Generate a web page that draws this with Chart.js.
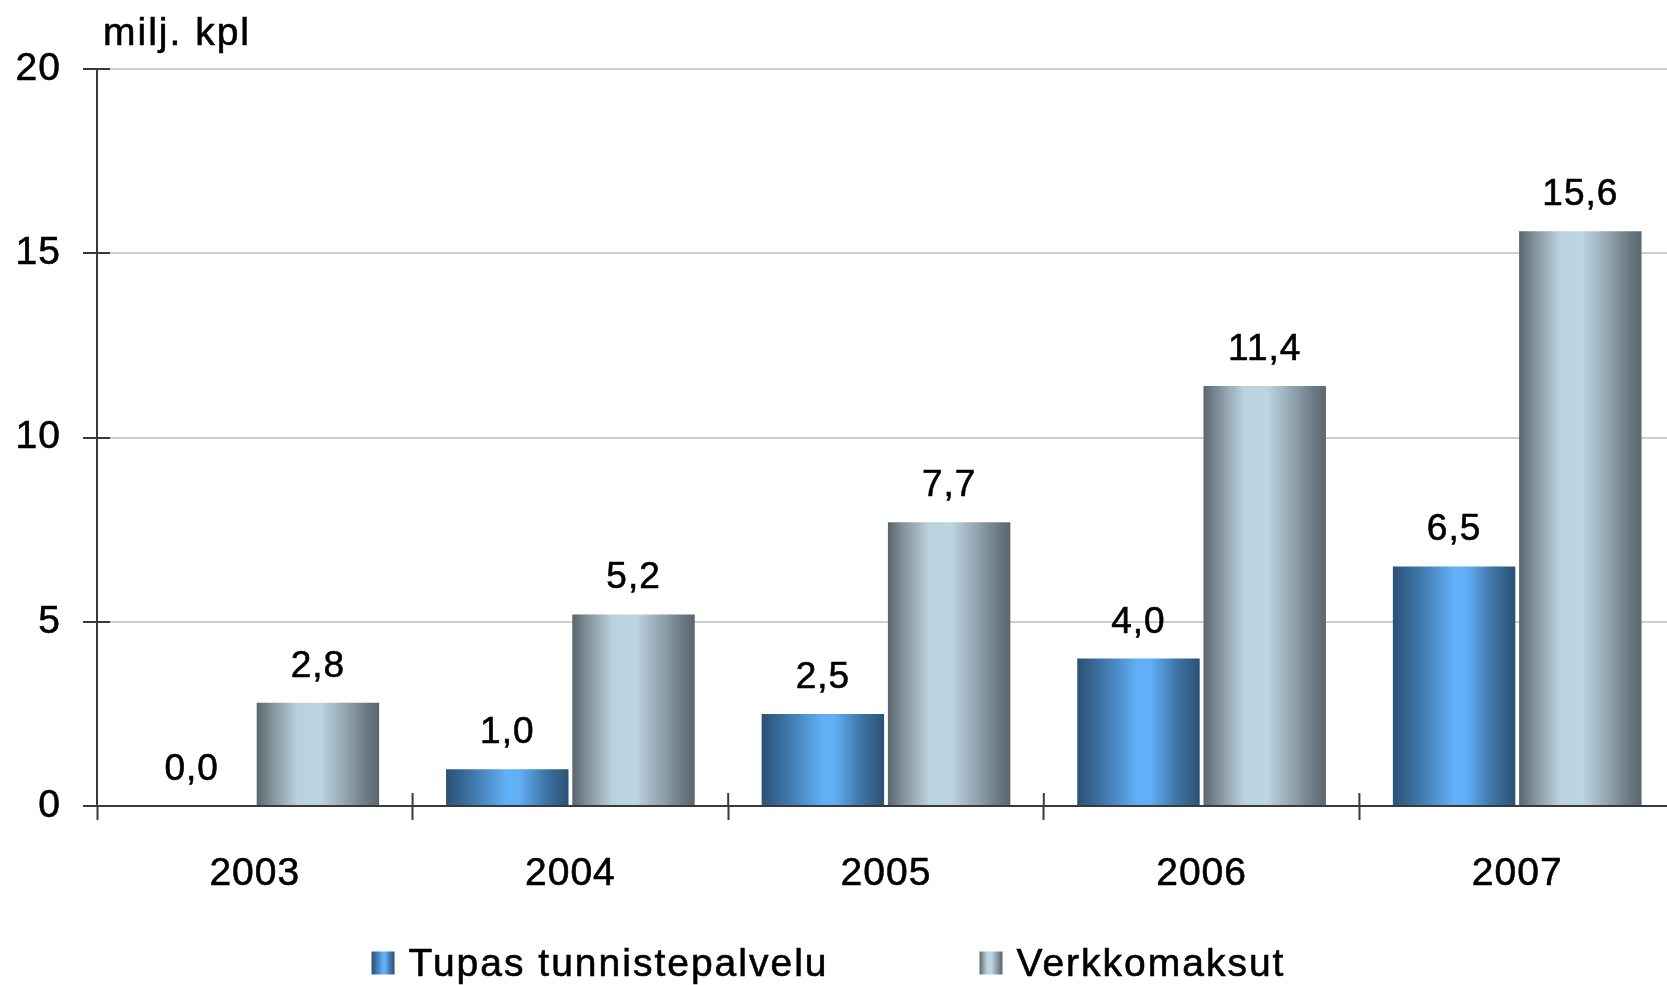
<!DOCTYPE html>
<html>
<head>
<meta charset="utf-8">
<script src="https://cdn.jsdelivr.net/npm/chart.js@4.4.1/dist/chart.umd.min.js"></script>
<style>
  html, body { margin: 0; padding: 0; background: #ffffff; overflow: hidden; }
  #wrap { position: relative; width: 1675px; height: 985px; }
</style>
</head>
<body>
<div id="wrap"><canvas id="c"></canvas></div>
<script>
const categories = ['2003', '2004', '2005', '2006', '2007'];
const seriesNames = ['Tupas tunnistepalvelu', 'Verkkomaksut'];
const tupasValues = [0.0, 1.0, 2.5, 4.0, 6.5];
const verkkoValues = [2.8, 5.2, 7.7, 11.4, 15.6];
const yTickValues = [0, 5, 10, 15, 20];
const yAxisTitle = 'milj. kpl';

const FONT = "'Liberation Sans', Arial, sans-serif";
const FS_AXIS = 39;
const FS_VAL = 37;
const FS_TEXT = 39;
const STROKE = 0.6;
const CAT_PCT = 0.8;
const BAR_PCT = 0.97;

const blueStops = [[0, '#2b5176'], [0.22, '#3f78ab'], [0.5, '#62b1f8'], [0.6, '#60aef5'], [0.82, '#3d73a4'], [1, '#2b5175']];
const greyStops = [[0, '#5a666e'], [0.14, '#86969f'], [0.33, '#bad1de'], [0.52, '#bdd4e1'], [0.72, '#92a6b1'], [0.9, '#6b7982'], [1, '#5b676f']];

function makeGrad(ctx, x0, x1, stops) {
  const g = ctx.createLinearGradient(x0, 0, x1, 0);
  stops.forEach(s => g.addColorStop(s[0], s[1]));
  return g;
}

function barGradient(stops) {
  return function (c) {
    const chart = c.chart;
    const xs = chart.scales && chart.scales.x;
    if (!xs || c.type !== 'data' || !isFinite(xs.width)) return stops[2][1];
    const catW = xs.width / categories.length;
    const group = catW * CAT_PCT;
    const slot = group / 2;
    const left = xs.getPixelForValue(c.dataIndex) - group / 2 + c.datasetIndex * slot + slot * (1 - BAR_PCT) / 2;
    const w = slot * BAR_PCT;
    return makeGrad(chart.ctx, left, left + w, stops);
  };
}

const fmt = v => v.toFixed(1).replace('.', ',');

function drawText(ctx, t, x, y) {
  ctx.fillText(t, x, y);
  ctx.strokeText(t, x, y);
}

const extrasPlugin = {
  id: 'extras',
  beforeDraw(chart) {
    chart.ctx.letterSpacing = '1px';
  },
  afterDraw(chart) {
    const ctx = chart.ctx;
    const area = chart.chartArea;
    const ys = chart.scales.y, xs = chart.scales.x;
    ctx.save();
    // inner tick marks crossing the axes
    ctx.strokeStyle = '#3a3a3a';
    ctx.lineWidth = 2;
    yTickValues.forEach(v => {
      const y = Math.round(ys.getPixelForValue(v));
      ctx.beginPath(); ctx.moveTo(area.left, y); ctx.lineTo(area.left + 13, y); ctx.stroke();
    });
    for (let i = 0; i <= categories.length; i++) {
      const x = xs.left + i * xs.width / categories.length;
      ctx.beginPath(); ctx.moveTo(x, area.bottom); ctx.lineTo(x, area.bottom - 13); ctx.stroke();
    }
    // value labels
    ctx.fillStyle = '#000';
    ctx.strokeStyle = '#000';
    ctx.lineWidth = STROKE;
    ctx.letterSpacing = '1px';
    ctx.font = FS_VAL + 'px ' + FONT;
    ctx.textAlign = 'center';
    ctx.textBaseline = 'alphabetic';
    chart.data.datasets.forEach((ds, di) => {
      const meta = chart.getDatasetMeta(di);
      meta.data.forEach((el, i) => {
        drawText(ctx, fmt(ds.data[i]), el.x, el.y - 26);
      });
    });
    // axis title
    ctx.letterSpacing = '2px';
    ctx.font = FS_TEXT + 'px ' + FONT;
    ctx.textAlign = 'left';
    ctx.textBaseline = 'middle';
    drawText(ctx, yAxisTitle, area.left + 6, 34);
    // legend
    const boxes = [blueStops, greyStops];
    const box = 23, gapText = 14, gapItems = 151;
    const widths = seriesNames.map(t => box + gapText + ctx.measureText(t).width);
    const total = widths[0] + gapItems + widths[1];
    let x = (chart.width - total) / 2 - 9;
    const cy = 963;
    seriesNames.forEach((t, i) => {
      ctx.fillStyle = makeGrad(ctx, x, x + box, boxes[i]);
      ctx.fillRect(x, cy - box / 2, box, box);
      ctx.fillStyle = '#000';
      drawText(ctx, t, x + box + gapText, cy + 2);
      x += widths[i] + gapItems;
    });
    ctx.restore();
  }
};

new Chart(document.getElementById('c'), {
  type: 'bar',
  data: {
    labels: categories,
    datasets: [
      { label: seriesNames[0], data: tupasValues, backgroundColor: barGradient(blueStops), borderWidth: 0,
        categoryPercentage: CAT_PCT, barPercentage: BAR_PCT },
      { label: seriesNames[1], data: verkkoValues, backgroundColor: barGradient(greyStops), borderWidth: 0,
        categoryPercentage: CAT_PCT, barPercentage: BAR_PCT }
    ]
  },
  options: {
    responsive: true,
    maintainAspectRatio: false,
    animation: false,
    devicePixelRatio: 1,
    layout: { padding: { top: 69, right: 0, bottom: 59, left: 0 } },
    plugins: { legend: { display: false }, tooltip: { enabled: false }, title: { display: false } },
    scales: {
      x: {
        offset: true,
        grid: { display: true, drawOnChartArea: false, offset: true, tickLength: 14, tickColor: '#3a3a3a', tickWidth: 2 },
        border: { display: true, color: '#3a3a3a', width: 2 },
        ticks: { color: '#000', font: { family: FONT, size: FS_AXIS }, padding: 31, maxRotation: 0,
                 textStrokeColor: '#000', textStrokeWidth: STROKE },
        afterFit(s) { s.height = 120; }
      },
      y: {
        min: 0, max: 20,
        afterBuildTicks(s) { s.ticks = yTickValues.map(v => ({ value: v })); },
        grid: { color: c => (c.tick && c.tick.value === 0 ? 'rgba(0,0,0,0)' : '#cdcdcd'), lineWidth: 2, tickLength: 14, tickColor: '#3a3a3a', tickWidth: 2 },
        border: { display: true, color: '#3a3a3a', width: 2 },
        ticks: { color: '#000', font: { family: FONT, size: FS_AXIS }, padding: 22,
                 textStrokeColor: '#000', textStrokeWidth: STROKE },
        afterFit(s) { s.width = 97; }
      }
    }
  },
  plugins: [extrasPlugin]
});
</script>
</body>
</html>
